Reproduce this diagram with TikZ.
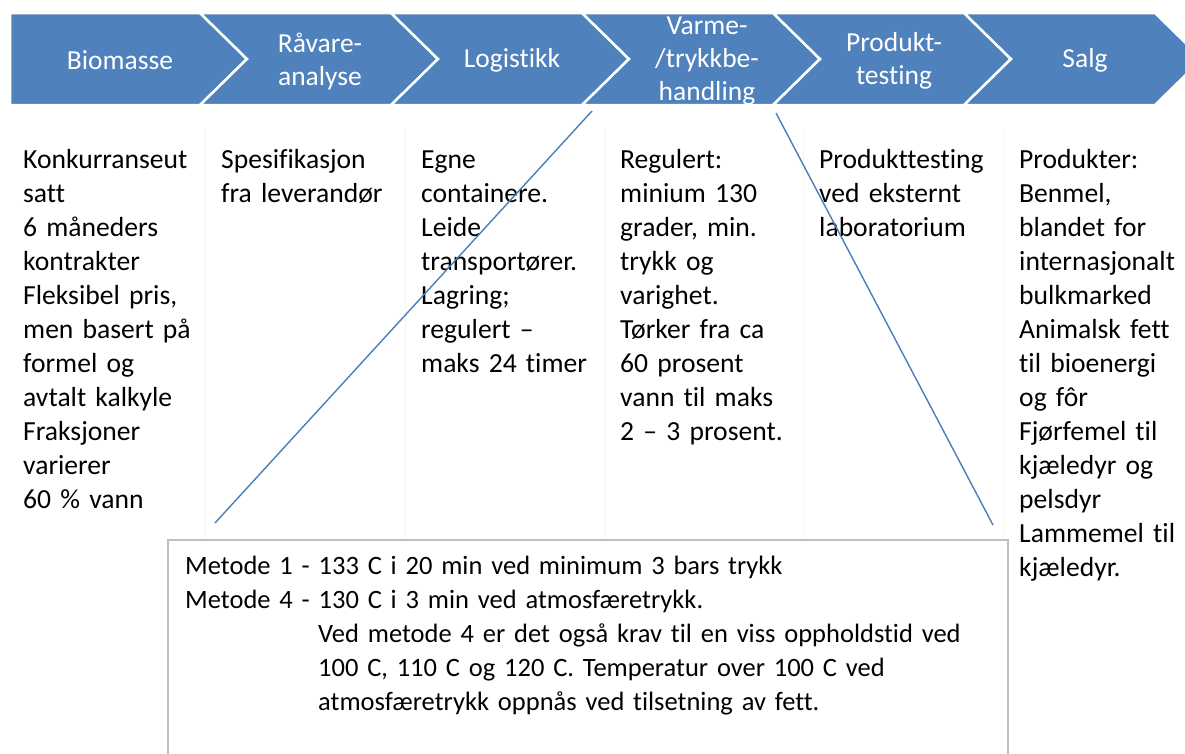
\documentclass[tikz,border=0pt]{standalone}
\usepackage{fontspec}
\setmainfont{Carlito}[Ligatures={NoCommon,NoRequired,NoContextual}]
\definecolor{chevblue}{HTML}{4F81BD}
\definecolor{linkblue}{HTML}{4A7EBB}
\definecolor{boxgray}{HTML}{BFBFBF}
\definecolor{rulegray}{HTML}{F5F5F5}
\tikzset{
  chevron/.style={fill=chevblue, draw=white, line width=2.5pt, line join=miter},
  headtext/.style={text=white, align=center, inner sep=0pt,
    font=\fontsize{27.5}{33}\selectfont},
  coltext/.style={anchor=north west, align=left, inner sep=0pt, text width=190pt,
    font=\fontsize{27.6}{34}\selectfont},
  boxtext/.style={anchor=north west, align=left, inner sep=0pt, text width=800pt,
    font=\fontsize{26.5}{34}\selectfont},
  link/.style={draw=linkblue, line width=1.4pt},
  colrule/.style={draw=rulegray, line width=0.8pt}
}
\begin{document}
\begin{tikzpicture}[x=1pt, y=-1pt]
\useasboundingbox (0,0) rectangle (1185,753);
\clip (0,0) rectangle (1185,753);

% process band: one home-plate arrow followed by five chevrons
\path[chevron] (10,13) -- (200,13) -- (247,59) -- (200,105) -- (10,105) -- cycle;
\foreach \a/\b in {200/391, 391/582, 582/773, 773/964, 964/1155}{
  \path[chevron] (\a,13) -- (\b,13) -- (\b+47,59) -- (\b,105) -- (\a,105) -- (\a+47,59) -- cycle;
}

\node[headtext] (bio)  at (120,60) {Biomasse};
\node[headtext] (raa)  at (320,61) {Råvare-\\analyse};
\node[headtext] (log)  at (512,60) {Logistikk};
\node[headtext] (varm) at (707,61) {Varme-\\/trykkbe-\\handling};
\node[headtext] (prod) at (894,61) {Produkt-\\testing};
\node[headtext] (salg) at (1085,60) {Salg};

% faint column separators
\foreach \x in {205,405,605,803,1003}{
  \draw[colrule] (\x,128) -- (\x,600);
}

% column descriptions (first baseline at y = 168)
\node[coltext] (c1) at (23,144.2) {\strut Konkurranseut\\satt\\6 måneders\\kontrakter\\Fleksibel pris,\\men basert på\\formel og\\avtalt kalkyle\\Fraksjoner\\varierer\\60 \% vann};
\node[coltext] (c2) at (221,144.2) {\strut Spesifikasjon\\fra leverandør};
\node[coltext] (c3) at (421,144.2) {\strut Egne\\containere.\\Leide\\transportører.\\Lagring;\\regulert –\\maks 24 timer};
\node[coltext] (c4) at (620,144.2) {\strut Regulert:\\minium 130\\grader, min.\\trykk og\\varighet.\\Tørker fra ca\\60 prosent\\vann til maks\\2 – 3 prosent.};
\node[coltext] (c5) at (819,144.2) {\strut Produkttesting\\ved eksternt\\laboratorium};
\node[coltext] (c6) at (1019,144.2) {\strut Produkter:\\Benmel,\\blandet for\\internasjonalt\\bulkmarked\\Animalsk fett\\til bioenergi\\og fôr\\Fjørfemel til\\kjæledyr og\\pelsdyr\\Lammemel til\\kjæledyr.};

% method box
\draw[boxgray, line width=1.2pt, fill=white] (168,540) rectangle (1008,780);
\coordinate (boxNW) at (215,523);
\coordinate (boxNE) at (993,525);
\node[boxtext] (meth) at (185,550.2) {\strut Metode 1 - 133 C i 20 min ved minimum 3 bars trykk\\
Metode 4 - 130 C i 3 min ved atmosfæretrykk.\\
\hspace*{133pt}Ved metode 4 er det også krav til en viss oppholdstid ved\\
\hspace*{133pt}100 C, 110 C og 120 C. Temperatur over 100 C ved\\
\hspace*{133pt}atmosfæretrykk oppnås ved tilsetning av fett.};

% callout lines from the heat/pressure step to the box
\coordinate (vleft)  at (592,111);
\coordinate (vright) at (776,113);
\draw[link] (vleft) -- (boxNW);
\draw[link] (vright) -- (boxNE);
\end{tikzpicture}
\end{document}
